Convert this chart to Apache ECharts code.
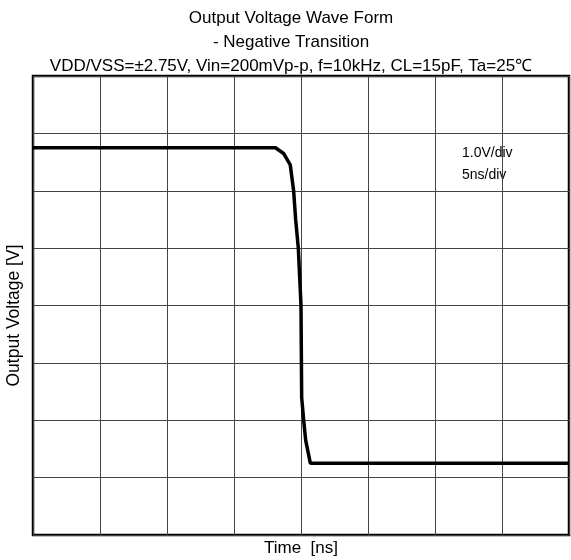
<!DOCTYPE html>
<html>
<head>
<meta charset="utf-8">
<script src="https://cdn.jsdelivr.net/npm/echarts@6/dist/echarts.min.js"></script>
<style>
html, body { margin: 0; padding: 0; background: #fff; }
#chart { width: 571px; height: 560px; }
</style>
</head>
<body>
<div id="chart"></div>
<script>
// waveform: time in ns, output in V
var timeNs = [0, 18.1, 18.7, 19.2, 19.45, 19.6, 19.8, 20.0, 20.05, 20.2, 20.35, 20.7, 40];
var voltV  = [2.75, 2.75, 2.65, 2.45, 2.0, 1.5, 1.0, 0, -1.6, -2.0, -2.35, -2.75, -2.75];

var titleLines = [
    'Output Voltage Wave Form',
    '- Negative Transition',
    'VDD/VSS=±2.75V, Vin=200mVp-p, f=10kHz, CL=15pF, Ta=25℃'
];
var scaleNotes = ['1.0V/div', '5ns/div'];

var font = '"Liberation Sans", Arial, sans-serif';

var chart = echarts.init(document.getElementById('chart'));

var points = timeNs.map(function (t, i) { return [t, voltV[i]]; });

chart.setOption({
    animation: false,
    title: {
        text: titleLines.join('\n'),
        left: 286,
        top: 1,
        textAlign: 'center',
        textStyle: { fontFamily: font, fontSize: 17, fontWeight: 'normal', color: '#000', lineHeight: 24 }
    },
    grid: {
        left: 33, right: 2, top: 76, bottom: 25,
        outerBoundsMode: 'none',
        show: true,
        borderColor: '#000',
        borderWidth: 2.5
    },
    xAxis: {
        type: 'value',
        min: 0, max: 40, interval: 5,
        name: 'Time  [ns]',
        nameLocation: 'middle',
        nameGap: 5,
        nameTextStyle: { fontFamily: font, fontSize: 17, color: '#000' },
        axisLine: { show: false },
        axisTick: { show: false },
        axisLabel: { show: false },
        splitLine: { lineStyle: { color: '#444', width: 1 } }
    },
    yAxis: {
        type: 'value',
        min: -4, max: 4, interval: 1,
        name: 'Output Voltage [V]',
        nameLocation: 'middle',
        nameGap: 10,
        nameTextStyle: { fontFamily: font, fontSize: 17.5, color: '#000', padding: [0, 20, 0, 0] },
        axisLine: { show: false },
        axisTick: { show: false },
        axisLabel: { show: false },
        splitLine: { lineStyle: { color: '#444', width: 1 } }
    },
    graphic: scaleNotes.map(function (s, i) {
        return {
            type: 'text',
            left: 462,
            top: 146 + i * 22,
            style: { text: s, font: '14px ' + font, fill: '#000' }
        };
    }),
    series: [{
        type: 'line',
        data: points,
        symbol: 'none',
        lineStyle: { color: '#000', width: 3.5 },
        z: 3
    }]
});
</script>
</body>
</html>
